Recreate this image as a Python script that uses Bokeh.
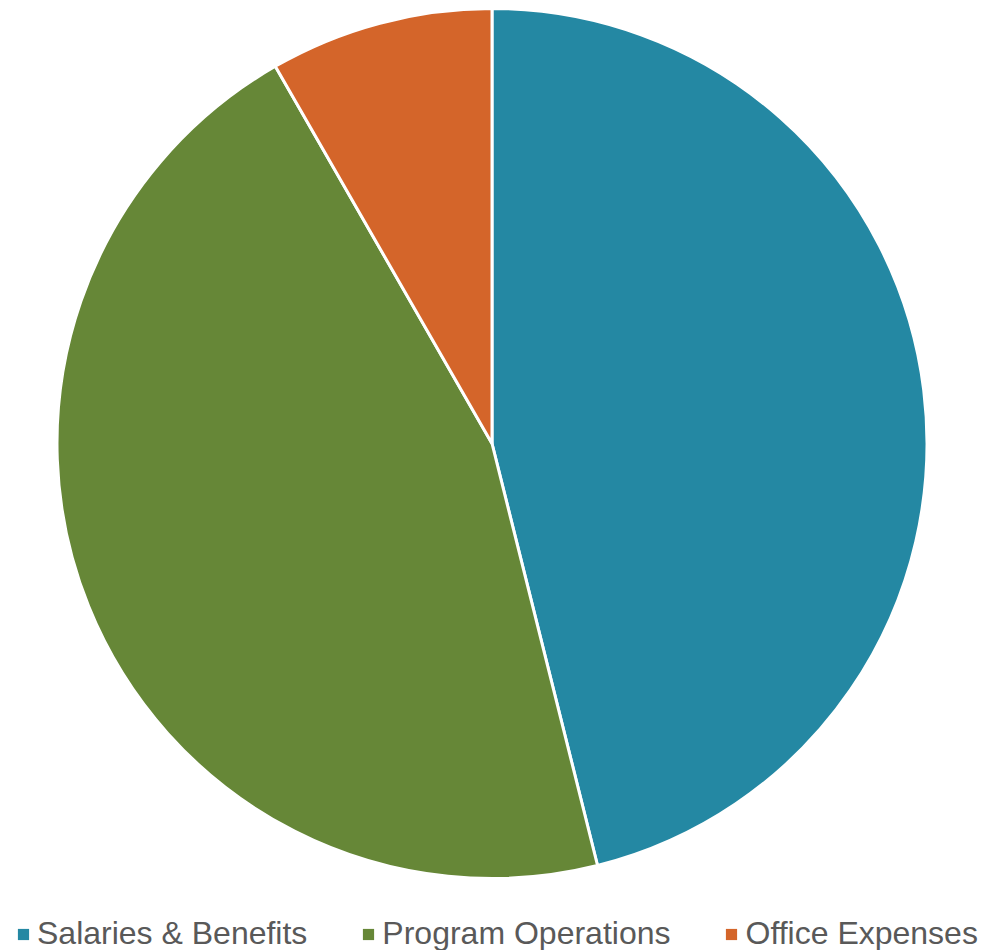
import math
from bokeh.plotting import figure
from bokeh.models import Range1d, Legend, LegendItem
from bokeh.embed import file_html
from bokeh.resources import INLINE

categories = ["Salaries & Benefits", "Program Operations", "Office Expenses"]
shares = [46.1, 45.6, 8.3]
colors = ["#2488A3", "#668737", "#D4652A"]

W, H = 982, 950
cx, cy, r = 491.5, H - 443, 435

total = sum(shares)
starts, ends = [], []
cum = 0.0
for s in shares:
    a0 = math.pi / 2 - 2 * math.pi * (cum + s) / total
    a1 = math.pi / 2 - 2 * math.pi * cum / total
    starts.append(a0)
    ends.append(a1)
    cum += s

p = figure(width=W, height=H, output_backend="svg", toolbar_location=None,
           x_range=Range1d(0, W), y_range=Range1d(0, H), min_border=0)
p.axis.visible = False
p.grid.visible = False
p.outline_line_color = None
p.background_fill_color = "white"
p.border_fill_color = "white"

legend_renderers = []
for i in range(len(categories)):
    p.wedge(x=cx, y=cy, radius=r, start_angle=starts[i], end_angle=ends[i],
            fill_color=colors[i], line_color="white", line_width=3)
    # zero-radius twin used only as the legend swatch (no white outline)
    lr = p.wedge(x=cx, y=cy, radius=0, start_angle=starts[i], end_angle=ends[i],
                 fill_color=colors[i], line_color=None)
    legend_renderers.append(lr)

legend = Legend(items=[LegendItem(label=categories[i], renderers=[legend_renderers[i]]) for i in range(3)],
                orientation="horizontal", location=(16, -2))
legend.glyph_width = 14
legend.glyph_height = 14
legend.label_standoff = 7
legend.spacing = 54
legend.padding = 0
legend.margin = 0
legend.border_line_color = None
legend.background_fill_alpha = 0
legend.label_text_font = "Liberation Sans"
legend.label_text_font_size = "32px"
legend.label_text_color = "#595959"
p.add_layout(legend)

open("out.html", "w").write(file_html(p, INLINE))
